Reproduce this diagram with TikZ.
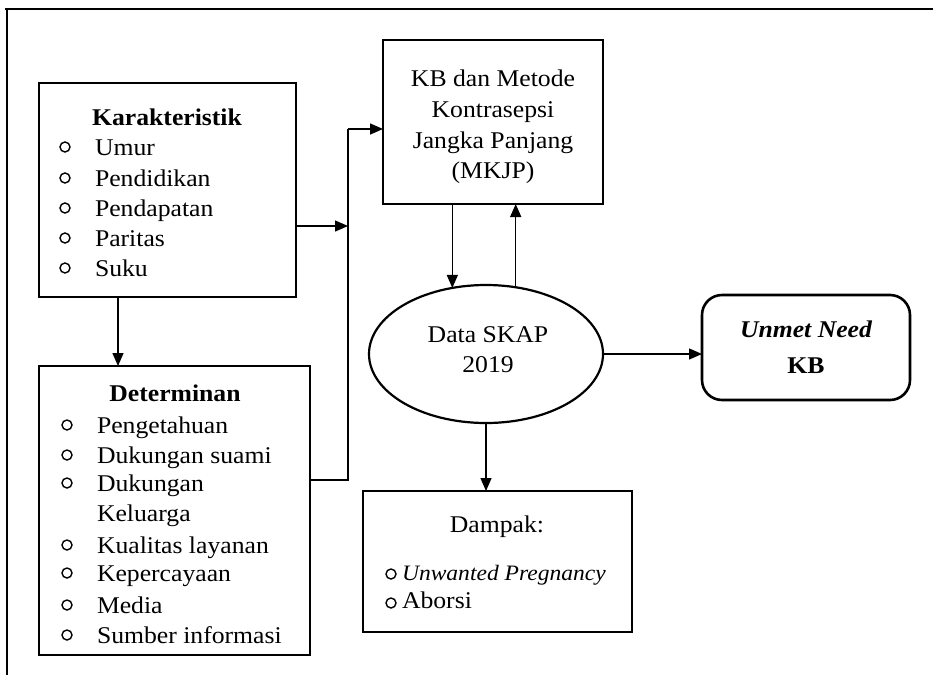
\documentclass[tikz,border=0pt]{standalone}
\usepackage{fontspec}
\setmainfont{Liberation Serif}[FakeStretch=1.07]
\usetikzlibrary{arrows.meta,shapes.geometric}
\begin{document}
\begin{tikzpicture}[x=1pt,y=-1pt,
  box/.style={draw,line width=2.6pt,inner sep=0pt,outer sep=0pt},
  conn/.style={line width=1.4pt},
  arr/.style={conn,-{Triangle[length=13pt,width=11pt]}},
  txt/.style={inner sep=0pt,outer sep=0pt,font=\fontsize{24}{30}\selectfont},
  lt/.style={txt,anchor=base west},
  ct/.style={txt,anchor=base},
  bul/.style={circle,draw,line width=1.4pt,minimum size=10pt,inner sep=0pt}]
\useasboundingbox (0,0) rectangle (933,675);
% outer frame
\draw[line width=1.8pt] (5,9) -- (933,9);
\draw[line width=1.8pt] (7,9) -- (7,675);
% boxes
\node[box,minimum width=257pt,minimum height=214pt] (kar) at (167.5,190) {};
\node[box,minimum width=271pt,minimum height=289pt] (det) at (174.5,510.5) {};
\node[box,minimum width=220pt,minimum height=164pt] (kb) at (493,122) {};
\node[ellipse,draw,line width=2.2pt,minimum width=234pt,minimum height=138pt,inner sep=0pt,outer sep=0pt] (ell) at (486,354) {};
\node[box,rounded corners=20pt,minimum width=208pt,minimum height=105pt] (un) at (806,347.5) {};
\node[box,minimum width=269pt,minimum height=141pt] (dam) at (497.5,561.5) {};
% Karakteristik
\node[ct,font=\fontsize{24}{30}\selectfont\bfseries] (karT) at (167,125) {Karakteristik};
\foreach \t/\y [count=\i] in {Umur/155,Pendidikan/186,Pendapatan/216,Paritas/246,Suku/276}{
  \node[bul] (kbul\i) at (65,\y-8) {};
  \node[lt] (kitem\i) at (95,\y) {\t};
}
% Determinan
\node[ct,font=\fontsize{24}{30}\selectfont\bfseries] (detT) at (175,401) {Determinan};
\foreach \t/\y [count=\i] in {Pengetahuan/433,Dukungan suami/463,Dukungan/491,Kualitas layanan/553,Kepercayaan/581,Media/613,Sumber informasi/643}{
  \node[bul] (dbul\i) at (67,\y-8) {};
  \node[lt] (ditem\i) at (97,\y) {\t};
}
\node[lt] (ditemK) at (97,521) {Keluarga};
% KB box text
\node[ct] (kb1) at (493,86) {KB dan Metode};
\node[ct] (kb2) at (493,117) {Kontrasepsi};
\node[ct] (kb3) at (493,148) {Jangka Panjang};
\node[ct] (kb4) at (493,178) {(MKJP)};
% ellipse text
\node[ct] (el1) at (488,342) {Data SKAP};
\node[ct] (el2) at (488,372) {2019};
% Unmet need
\node[ct,font=\fontsize{24}{30}\selectfont\bfseries\itshape] (un1) at (806,337) {Unmet Need};
\node[ct,font=\fontsize{24}{30}\selectfont\bfseries] (un2) at (806,373) {KB};
% Dampak
\node[ct] (damT) at (497,532) {Dampak:};
\node[bul] (dmb1) at (391,574) {};
\node[bul] (dmb2) at (391,603) {};
\node[lt,font=\fontsize{22}{30}\selectfont\itshape] (dm1) at (402,580) {Unwanted Pregnancy};
\node[lt] (dm2) at (402,608) {Aborsi};
% connectors
\coordinate (jt) at (348,129);
\coordinate (jm) at (348,226);
\coordinate (jb) at (348,480);
\coordinate (kx) at (118,0);
\draw[conn] (det.east |- jb) -- (jb) -- (jt);
\draw[arr] (jt) -- (kb.west |- jt);
\draw[arr] (kar.east |- jm) -- (jm);
\draw[arr] (kar.south -| kx) -- (det.north -| kx);
\draw[arr] (kb.south -| ell.117) -- (ell.117);
\draw[arr] (ell.66.5) -- (kb.south -| ell.66.5);
\draw[arr] (ell.east) -- (un.west |- ell.east);
\draw[arr] (ell.south) -- (dam.north -| ell.south);
\end{tikzpicture}
\end{document}
